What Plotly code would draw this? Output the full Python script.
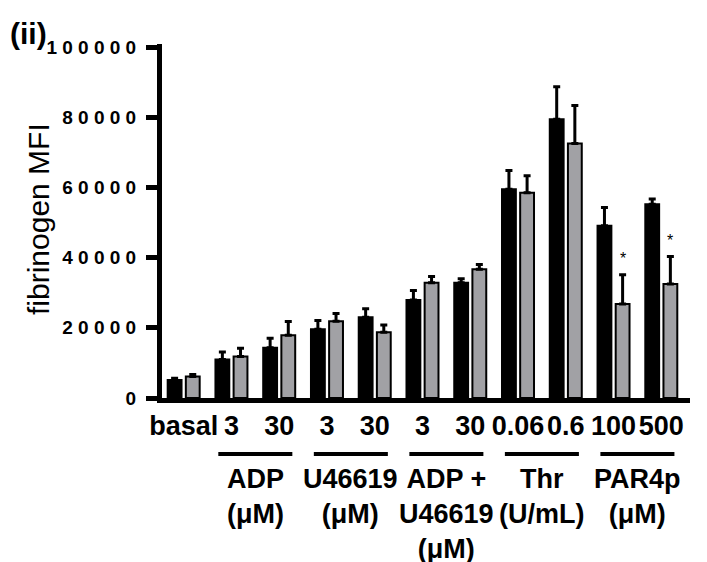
import plotly.graph_objects as go

# ---- data ----
tick_labels = ["basal", "3", "30", "3", "30", "3", "30", "0.06", "0.6", "100", "500"]
black_vals = [5100, 11000, 14300, 19600, 23000, 27900, 32800, 59500, 79400, 49100, 55200]
black_err = [500, 2100, 2700, 2500, 2400, 2700, 1200, 5300, 9300, 5200, 1500]
gray_vals = [6100, 11800, 17900, 21900, 18700, 32800, 36700, 58500, 72500, 26800, 32500]
gray_err = [600, 2400, 3900, 2200, 2100, 1800, 1300, 4800, 10800, 8300, 7800]

group_names = ["ADP<br>(μM)", "U46619<br>(μM)", "ADP +<br>U46619<br>(μM)", "Thr<br>(U/mL)", "PAR4p<br>(μM)"]
group_pairs = [(1, 2), (3, 4), (5, 6), (7, 8), (9, 10)]
star_positions = [9, 10]  # gray bars marked with *

y_tickvals = [0, 20000, 40000, 60000, 80000, 100000]
y_ticktext = [" ".join(str(v)) for v in y_tickvals]

FONT = "Liberation Sans, Arial, sans-serif"
x = list(range(len(tick_labels)))

# page body has an 8px default margin; figure is sized to fit the window exactly
W, H = 699, 554
L, R, T, B = 154, 17, 36, 164
PW, PH = W - L - R, H - T - B
OFF = 8  # body offset in window pixels


def px_x(wx):  # window x pixel -> paper x
    return (wx - OFF - L) / PW


def px_y(wy):  # window y pixel -> paper y
    return (T + PH - (wy - OFF)) / PH


fig = go.Figure()
fig.add_trace(go.Bar(
    x=x, y=black_vals, marker=dict(color="black", line=dict(color="black", width=2)),
    error_y=dict(type="data", array=black_err, arrayminus=[0] * len(black_err), symmetric=False,
                 color="black", thickness=3, width=3.5),
    showlegend=False))
fig.add_trace(go.Bar(
    x=x, y=gray_vals, marker=dict(color="#a1a1a5", line=dict(color="black", width=2)),
    error_y=dict(type="data", array=gray_err, arrayminus=[0] * len(gray_err), symmetric=False,
                 color="black", thickness=3, width=3.5),
    showlegend=False))

shapes = []
annotations = []
for (a, b), name in zip(group_pairs, group_names):
    mid = (a + b) / 2
    shapes.append(dict(type="line", xref="x", yref="paper", x0=mid - 0.775, x1=mid + 0.775,
                       y0=px_y(454), y1=px_y(454), line=dict(color="black", width=4)))
    annotations.append(dict(text="<b>" + name + "</b>", x=mid, xref="x", y=px_y(462), yref="paper",
                            xanchor="center", yanchor="top", showarrow=False,
                            font=dict(family=FONT, size=27, color="black")))

for i in star_positions:
    annotations.append(dict(text="*", x=i, xref="x", y=gray_vals[i] + gray_err[i], yref="y",
                            xshift=9, yshift=6, xanchor="center", yanchor="bottom", showarrow=False,
                            font=dict(family=FONT, size=16, color="black")))

annotations.append(dict(text="<b>(ii)</b>", x=px_x(8), xref="paper", y=px_y(34), yref="paper",
                        xanchor="left", yanchor="middle", showarrow=False,
                        font=dict(family=FONT, size=30, color="black")))

annotations.append(dict(text="fibrinogen MFI", textangle=-90, x=px_x(38), xref="paper",
                        y=px_y(219), yref="paper", xanchor="center", yanchor="middle", showarrow=False,
                        font=dict(family=FONT, size=30, color="black")))

fig.update_layout(
    width=W, height=H,
    margin=dict(l=L, r=R, t=T, b=B),
    paper_bgcolor="white", plot_bgcolor="white",
    barmode="group", bargap=0.24, bargroupgap=0.237,
    font=dict(family=FONT, color="black"),
    shapes=shapes, annotations=annotations,
    xaxis=dict(range=[-0.454, 10.601], tickvals=x, ticktext=["<b>" + t + "</b>" for t in tick_labels],
               tickfont=dict(family=FONT, size=27, color="black"), ticks="",
               showline=True, linewidth=5, linecolor="black", showgrid=False, zeroline=False),
    yaxis=dict(range=[0, 100855], tickvals=y_tickvals, ticktext=["<b>" + t + "</b>" for t in y_ticktext],
               tickfont=dict(family=FONT, size=19, color="black"), ticks="outside", ticklen=11,
               tickwidth=5, tickcolor="black", showline=True, linewidth=5, linecolor="black",
               ticklabelstandoff=6,
               showgrid=False, zeroline=False),
)

fig.write_html("out.html")
